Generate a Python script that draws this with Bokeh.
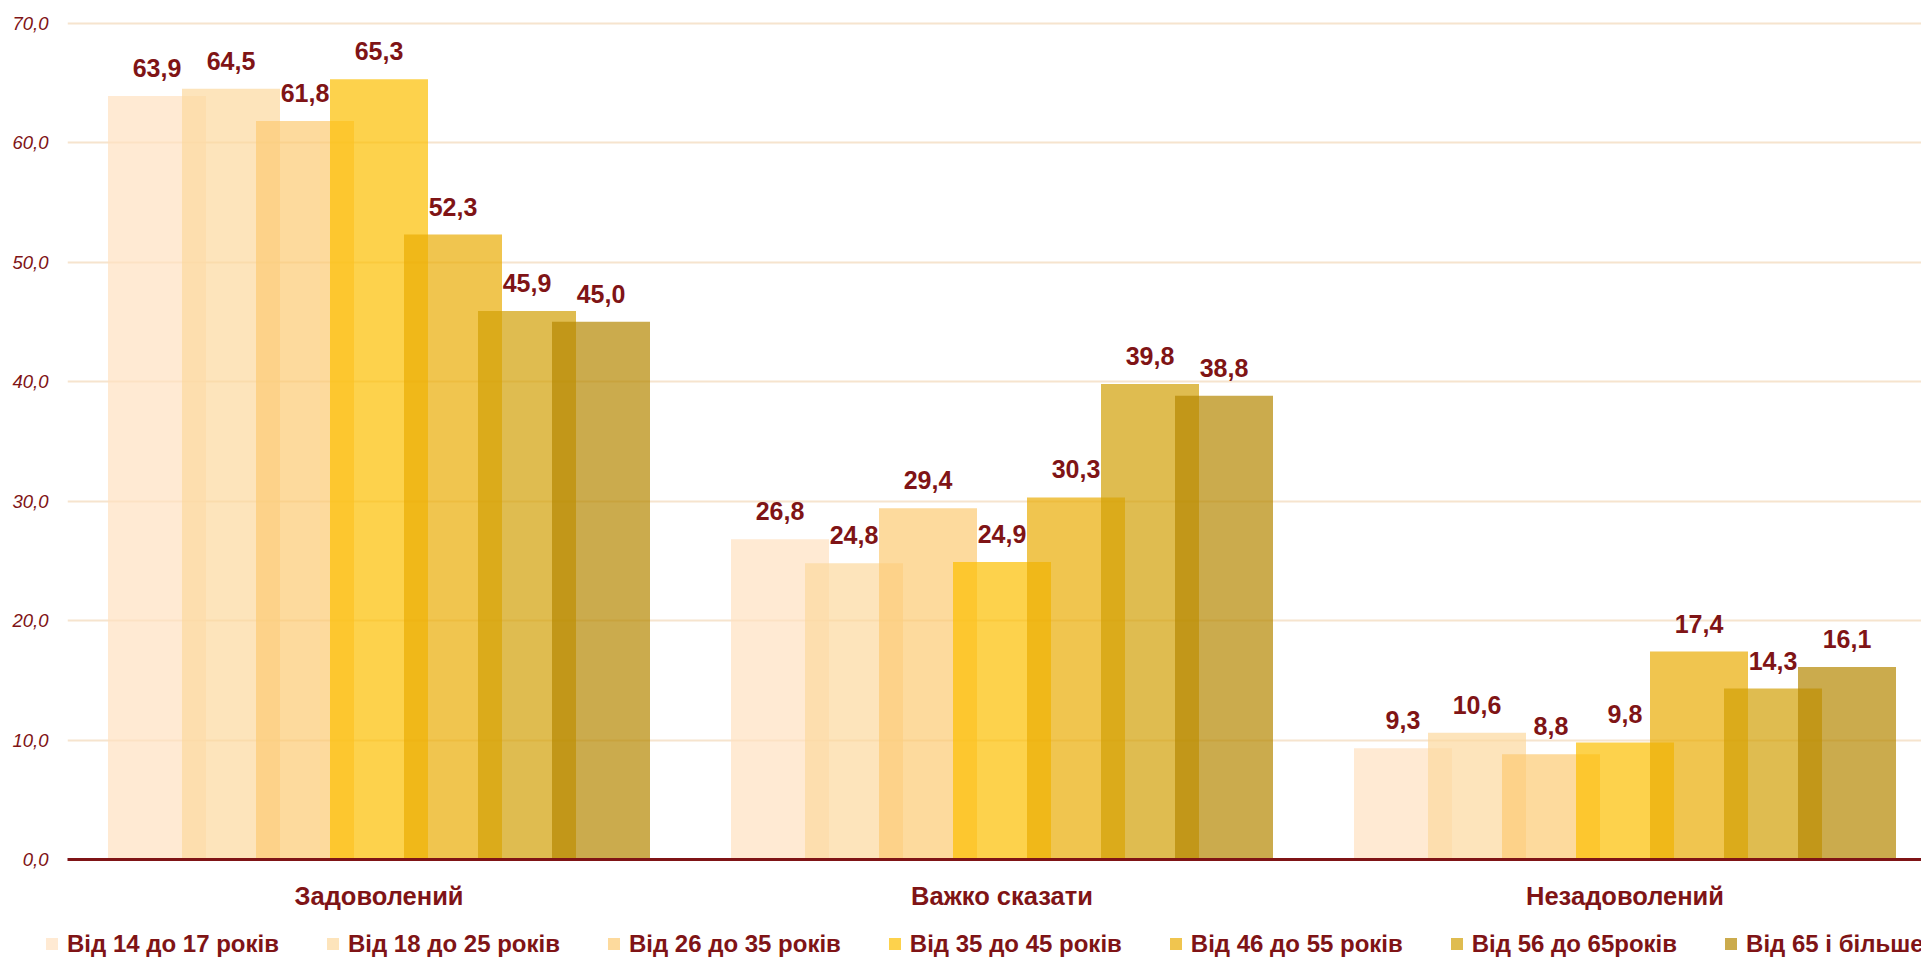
from bokeh.plotting import figure
from bokeh.layouts import column
from bokeh.models import Range1d, FixedTicker, Legend, LegendItem, ColumnDataSource
from bokeh.core.properties import value
from bokeh.embed import file_html
from bokeh.resources import INLINE

# ---------------- data ----------------
categories = ["Задоволений", "Важко сказати", "Незадоволений"]
series_names = ["Від 14 до 17 років", "Від 18 до 25 років", "Від 26 до 35 років",
                "Від 35 до 45 років", "Від 46 до 55 років", "Від 56 до 65років",
                "Від 65 і більше"]
v_14_17 = [63.9, 26.8, 9.3]
v_18_25 = [64.5, 24.8, 10.6]
v_26_35 = [61.8, 29.4, 8.8]
v_35_45 = [65.3, 24.9, 9.8]
v_46_55 = [52.3, 30.3, 17.4]
v_56_65 = [45.9, 39.8, 14.3]
v_65_plus = [45.0, 38.8, 16.1]
series_values = [v_14_17, v_18_25, v_26_35, v_35_45, v_46_55, v_56_65, v_65_plus]
y_ticks = [0, 10, 20, 30, 40, 50, 60, 70]
y_tick_labels = ["0,0", "10,0", "20,0", "30,0", "40,0", "50,0", "60,0", "70,0"]

# ---------------- style ----------------
colors = ["#FFE1C0", "#FCD89E", "#FCCA74", "#FCBF00", "#EAAC04", "#D19F05", "#B58801"]
bar_alpha = 0.7
dark_red = "#7F1416"
FONT = "'Liberation Sans', Arial, sans-serif"

W = 1921
H_CHART, H_LEGEND = 925, 34
LEFT, BOTTOM = 67, 66
PX_PER_CAT = 623.0
PX_PER_Y = 11.95
x_end = (W - LEFT) / PX_PER_CAT
y_end = (H_CHART - BOTTOM) / PX_PER_Y
step = 74.0 / PX_PER_CAT
bar_w = 98.0 / PX_PER_CAT

# ---------------- main chart ----------------
p = figure(width=W, height=H_CHART, output_backend="svg", toolbar_location=None,
           x_range=Range1d(0, x_end), y_range=Range1d(0, y_end),
           min_border_left=LEFT, min_border_right=0, min_border_top=0,
           min_border_bottom=BOTTOM)
p.outline_line_color = None
p.background_fill_color = "white"
p.border_fill_color = "white"

n = len(series_values)
sources = []
for k, (vals, col) in enumerate(zip(series_values, colors)):
    xs = [i + 0.5 + (k - (n - 1) / 2) * step for i in range(len(categories))]
    src = ColumnDataSource(dict(x=xs, top=vals,
                                lbl=[f"{v:.1f}".replace(".", ",") for v in vals]))
    sources.append(src)
    p.vbar(x="x", top="top", width=bar_w, bottom=0, source=src,
           fill_color=col, fill_alpha=bar_alpha, line_color=None)
    p.text(x="x", y="top", text="lbl", source=src, text_align="center",
           text_baseline="middle", y_offset=-28, text_font=value(FONT),
           text_font_size="25px", text_font_style="bold", text_color=dark_red)

# y axis
p.yaxis.ticker = FixedTicker(ticks=y_ticks)
p.yaxis.major_label_overrides = {t: l for t, l in zip(y_ticks, y_tick_labels)}
p.yaxis.axis_line_color = None
p.yaxis.major_tick_line_color = None
p.yaxis.minor_tick_line_color = None
p.yaxis.major_tick_out = 0
p.yaxis.minor_tick_out = 0
p.yaxis.major_label_standoff = 19
p.yaxis.major_label_text_font = FONT
p.yaxis.major_label_text_font_style = "italic"
p.yaxis.major_label_text_font_size = "18.5px"
p.yaxis.major_label_text_color = dark_red

# x axis
cat_ticks = [i + 0.5 for i in range(len(categories))]
p.xaxis.ticker = FixedTicker(ticks=cat_ticks)
p.xaxis.major_label_overrides = {t: c for t, c in zip(cat_ticks, categories)}
p.xaxis.axis_line_color = dark_red
p.xaxis.axis_line_width = 3
p.xaxis.major_tick_line_color = None
p.xaxis.minor_tick_line_color = None
p.xaxis.major_tick_out = 0
p.xaxis.minor_tick_out = 0
p.xaxis.major_label_standoff = 22
p.xaxis.major_label_text_font = FONT
p.xaxis.major_label_text_font_style = "bold"
p.xaxis.major_label_text_font_size = "25.5px"
p.xaxis.major_label_text_color = dark_red

p.xgrid.grid_line_color = None
p.ygrid.grid_line_color = "#F6E4CE"
p.ygrid.grid_line_width = 2

# ---------------- legend strip ----------------
lg = figure(width=W, height=H_LEGEND, output_backend="svg", toolbar_location=None,
            x_range=Range1d(0, x_end), y_range=Range1d(1000, 1001),
            x_axis_type=None, y_axis_type=None, min_border=0)
lg.outline_line_color = None
lg.background_fill_color = "white"
lg.border_fill_color = "white"

legend_x = 44 - LEFT
if "frame_align" in lg.properties():
    lg.frame_align = False
    p.frame_align = False
    legend_x = 44

# same bars, far outside the strip's visible y-range: only their legend swatches show
legend_renderers = [lg.vbar(x="x", top="top", width=bar_w, bottom=0, source=src,
                            fill_color=col, fill_alpha=bar_alpha, line_color=None)
                    for src, col in zip(sources, colors)]
legend = Legend(items=[LegendItem(label=nm, renderers=[r])
                       for nm, r in zip(series_names, legend_renderers)],
                orientation="horizontal", nrows=1, location=(legend_x, 1.5),
                glyph_width=15, glyph_height=15, label_standoff=8,
                label_width=0, spacing=46, padding=0, margin=0,
                border_line_color=None, background_fill_alpha=0,
                label_text_font=FONT, label_text_font_style="bold",
                label_text_font_size="24px", label_text_color=dark_red)
lg.add_layout(legend, "center")

layout = column(p, lg, spacing=0)
open("out.html", "w").write(file_html(layout, INLINE))
